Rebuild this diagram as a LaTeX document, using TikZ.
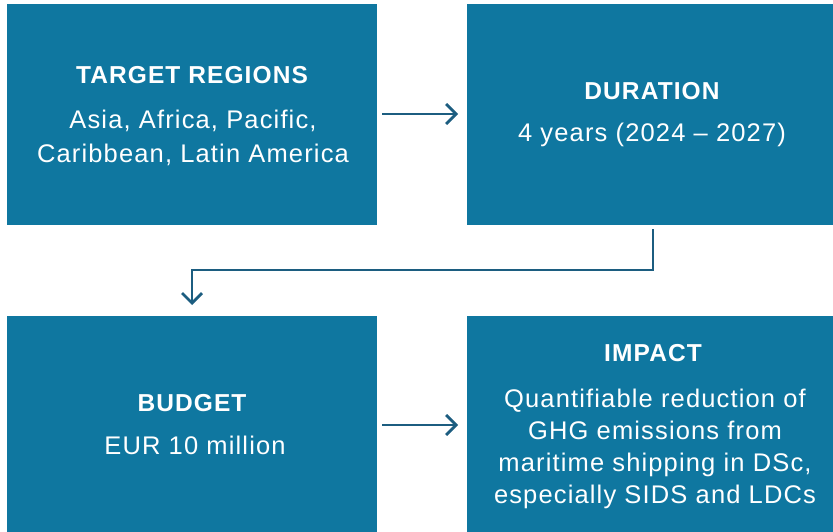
\documentclass[tikz,border=0pt]{standalone}
\usepackage{fontspec}
\setmainfont{Liberation Sans}[LetterSpace=4.5]
\usetikzlibrary{arrows.meta}
\definecolor{boxblue}{HTML}{0F77A0}
\definecolor{arrowblue}{HTML}{1C5D80}
\tikzset{
  box/.style={draw=none, fill=boxblue, inner sep=0pt},
  ttl/.style={text=white, font=\fontsize{24.5}{28}\selectfont\bfseries, inner sep=0pt},
  bdy/.style={text=white, align=center, inner sep=0pt},
  conn/.style={draw=arrowblue, line width=2.8pt, -{Straight Barb[length=10pt, width=20pt, line width=2.8pt]}},
}
\begin{document}
\begin{tikzpicture}[x=1pt, y=-1pt]
\useasboundingbox (0,0) rectangle (833,532);
\fill[white] (0,0) rectangle (833,532);
% boxes
\node[box, minimum width=370pt, minimum height=221pt] (tl) at (192,114.5) {};
\node[box, minimum width=366pt, minimum height=221pt] (tr) at (650,114.5) {};
\node[box, minimum width=370pt, minimum height=216pt] (bl) at (192,424) {};
\node[box, minimum width=366pt, minimum height=216pt] (br) at (650,424) {};
% texts
\node[ttl] (tlt) at (192,75) {TARGET REGIONS};
\node[bdy, font=\fontsize{25.5}{34}\selectfont] (tlb) at (193,138) {Asia, Africa, Pacific,\\Caribbean, Latin America};
\node[ttl] (trt) at (652,91) {DURATION};
\node[bdy, font=\fontsize{25.5}{34}\selectfont] (trb) at (652,135) {4 years (2024 -- 2027)};
\node[ttl] (blt) at (192,403) {BUDGET};
\node[bdy, font=\fontsize{25.5}{34}\selectfont] (blb) at (195,445) {EUR 10 million};
\node[ttl] (brt) at (653,353) {IMPACT};
\node[bdy, font=\fontsize{25.5}{32}\selectfont] (brb) at (655,449) {Quantifiable reduction of\\GHG emissions from\\maritime shipping in DSc,\\especially SIDS and LDCs};
% connectors
\coordinate (a1s) at (382,114);
\coordinate (a1e) at (458,114);
\draw[conn] (a1s) -- (a1e);
\coordinate (a2s) at (382,425);
\coordinate (a2e) at (458,425);
\draw[conn] (a2s) -- (a2e);
\coordinate (e1) at (653,229);
\coordinate (e2) at (192,305);
\draw[conn, line width=2.2pt] (e1) |- (192,270) -- (e2);
\end{tikzpicture}
\end{document}
